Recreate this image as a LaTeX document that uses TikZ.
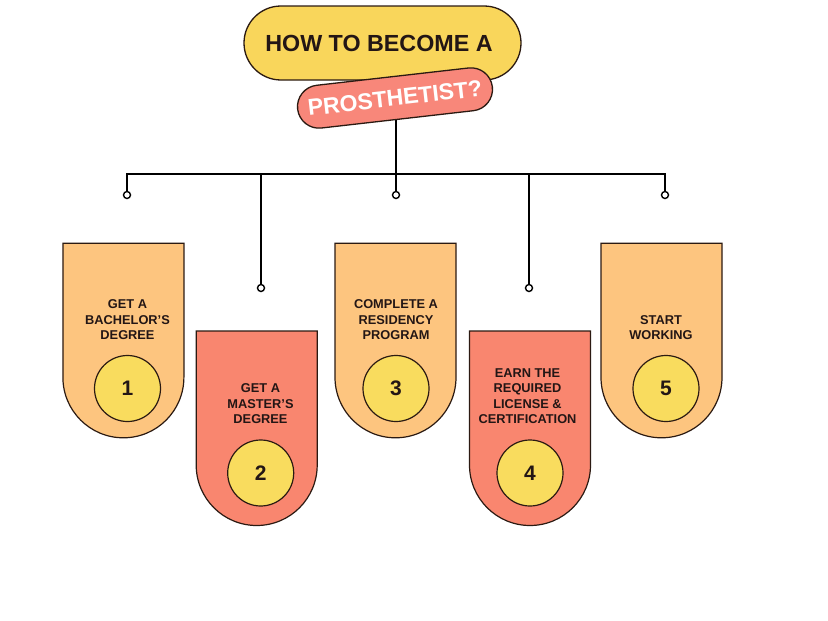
\documentclass[tikz,border=0pt]{standalone}
\usepackage{fontspec}
\setmainfont{Liberation Sans}
\usetikzlibrary{shapes.misc}
\definecolor{titleyellow}{HTML}{F9D65B}
\definecolor{pillpink}{HTML}{F8877A}
\definecolor{peach}{HTML}{FDC57F}
\definecolor{salmon}{HTML}{F9866F}
\definecolor{numyellow}{HTML}{F9DC5E}
\definecolor{outline}{HTML}{2B1A12}
\definecolor{ink}{HTML}{231615}
\newcommand\procard[3]{%
  \path[cardshape, fill=#3] ({#1-60.5},{-#2}) -- ({#1+60.5},{-#2}) -- ({#1+60.5},{-#2-134})
    arc[start angle=0, end angle=-180, radius=60.5] -- cycle;}
\begin{document}
\begin{tikzpicture}[x=1pt,y=1pt,
  cardshape/.style={draw=outline, line width=1.2pt},
  cardtext/.style={text=ink, align=center, font=\bfseries\fontsize{12.8}{15.5}\selectfont},
  numdisc/.style={circle, draw=outline, line width=1.2pt, fill=numyellow, minimum size=66pt, inner sep=0pt, text=ink, font=\bfseries\fontsize{21}{24}\selectfont},
  conn/.style={draw=black, line width=1.8pt},
  endpoint/.style={circle, draw=black, line width=1.4pt, fill=white, minimum size=7pt, inner sep=0pt}]
\useasboundingbox (0,0) rectangle (828,-621);

% connectors
\coordinate (stemtop) at (396,-100);
\coordinate (hub) at (396,-174);
\node[endpoint] (e1) at (127,-195) {};
\node[endpoint] (e2) at (261,-288) {};
\node[endpoint] (e3) at (396,-195) {};
\node[endpoint] (e4) at (529,-288) {};
\node[endpoint] (e5) at (665,-195) {};
\draw[conn] (stemtop) -- (hub);
\draw[conn] (e1.north) -- (e1 |- hub) -- (e5 |- hub) -- (e5.north);
\draw[conn] (hub) -- (e3.north);
\draw[conn] (e2 |- hub) -- (e2.north);
\draw[conn] (e4 |- hub) -- (e4.north);

% title
\node[rounded rectangle, fill=titleyellow, draw=outline, line width=1.3pt,
      minimum width=277pt, minimum height=74pt, inner sep=0pt] (titlebox) at (382.5,-43) {};
\node[text=ink, font=\bfseries\fontsize{23.3}{26}\selectfont] (titletext) at (379,-43) {HOW TO BECOME A};
\node[rounded rectangle, fill=pillpink, draw=outline, line width=1.3pt,
      minimum width=196pt, minimum height=43pt, inner sep=0pt, rotate=6.5,
      text=white, font=\bfseries\fontsize{23}{26}\selectfont] (pill) at (395,-98) {PROSTHETIST?};

% cards
\procard{123.4}{243.3}{peach}
\procard{256.7}{331}{salmon}
\procard{395.5}{243.3}{peach}
\procard{530}{331}{salmon}
\procard{661.5}{243.3}{peach}

\node[cardtext] (t1) at (127.5,-320) {GET A\\BACHELOR’S\\DEGREE};
\node[cardtext] (t2) at (260.5,-404) {GET A\\MASTER’S\\DEGREE};
\node[cardtext] (t3) at (396,-320) {COMPLETE A\\RESIDENCY\\PROGRAM};
\node[cardtext] (t4) at (527.5,-396) {EARN THE\\REQUIRED\\LICENSE \&\\CERTIFICATION};
\node[cardtext] (t5) at (661,-327.5) {START\\WORKING};

\node[numdisc] (n1) at (127.5,-388.5) {1};
\node[numdisc] (n2) at (260.7,-473) {2};
\node[numdisc] (n3) at (396,-388.5) {3};
\node[numdisc] (n4) at (530,-473) {4};
\node[numdisc] (n5) at (666,-388.5) {5};
\end{tikzpicture}
\end{document}
